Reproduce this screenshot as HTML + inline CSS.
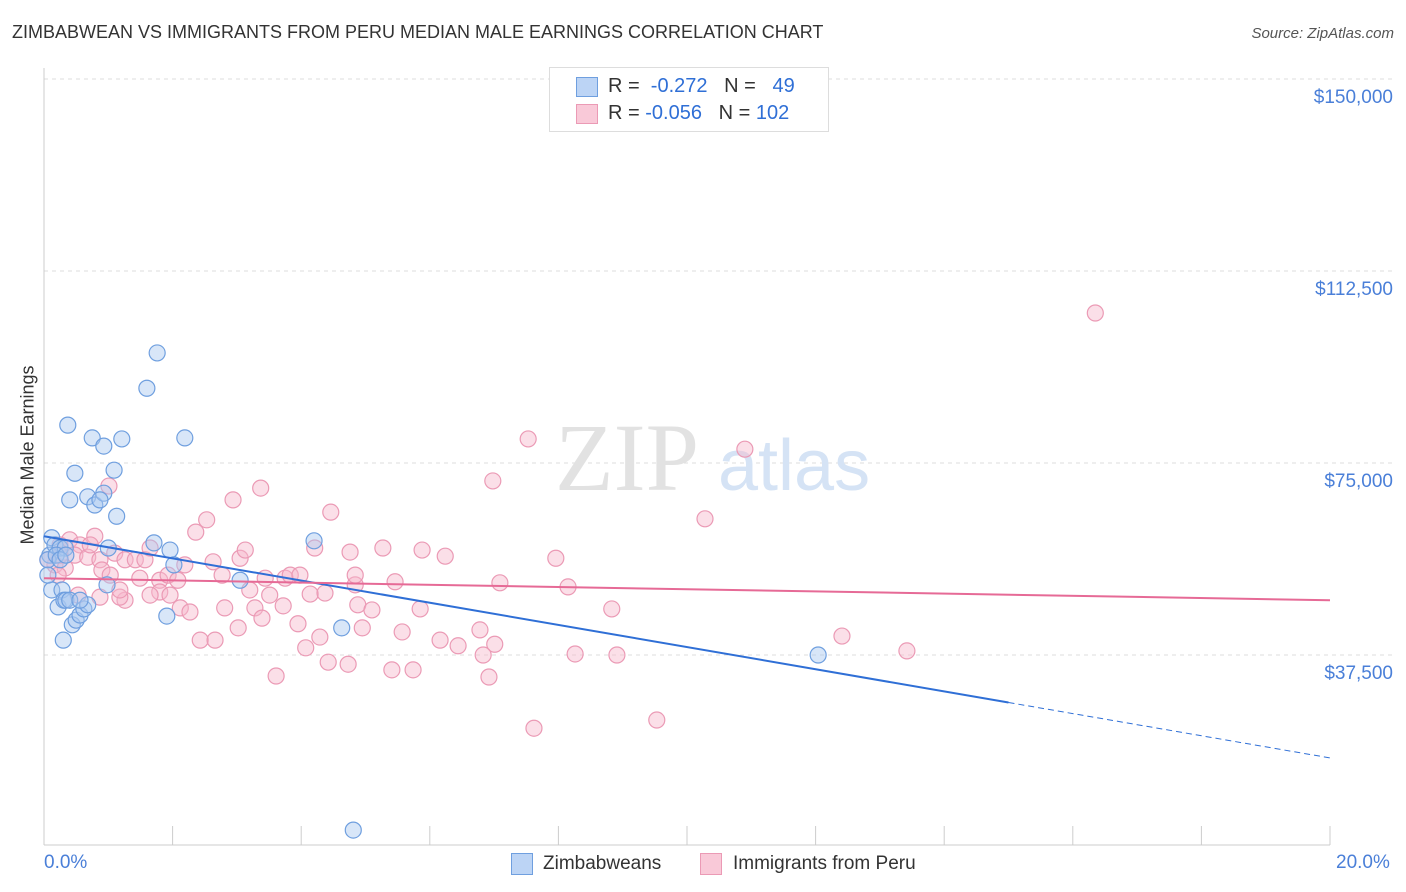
<!DOCTYPE html>
<html><head><meta charset="utf-8">
<style>
body{margin:0;background:#fff;font-family:"Liberation Sans",sans-serif;}
#wrap{position:relative;width:1406px;height:892px;overflow:hidden;}
.t{position:absolute;white-space:nowrap;}
</style></head>
<body>
<div id="wrap">
<div class="t" style="left:12px;top:22px;font-size:18px;color:#333;">ZIMBABWEAN VS IMMIGRANTS FROM PERU MEDIAN MALE EARNINGS CORRELATION CHART</div>
<div class="t" style="right:12px;top:25px;font-size:15px;color:#555;font-style:italic;">Source: ZipAtlas.com</div>
<svg id="svg" width="1406" height="892" style="position:absolute;left:0;top:0"></svg>
</div>
<script>
const blueX=[0.12,0.09,0.06,0.17,0.25,0.33,0.12,0.22,0.28,0.31,0.34,0.40,0.44,0.50,0.56,0.62,0.30,0.37,0.40,0.48,0.68,0.75,0.79,0.93,0.93,1.09,1.13,1.21,1.00,0.98,1.60,1.76,1.71,1.96,1.91,2.02,2.19,3.05,4.20,4.63,4.81,12.04,0.06,0.19,0.25,0.87,0.68,0.56,0.34];
const blueY=[60.4,57.0,56.1,59.0,58.4,58.4,50.2,46.9,50.2,48.2,48.2,48.2,43.4,44.3,45.3,46.5,40.4,82.4,67.8,73.0,68.4,79.9,66.8,78.3,69.1,73.6,64.6,79.7,58.4,51.2,89.6,96.5,59.4,58.0,45.1,55.1,79.9,52.1,59.8,42.8,3.3,37.5,53.1,57.0,56.1,67.8,47.3,48.2,57.0];
const pinkX=[16.35,7.53,10.90,6.98,3.37,1.01,10.28,2.94,2.53,4.46,2.36,0.79,0.25,0.40,0.56,0.17,0.33,0.48,0.68,0.87,1.10,1.26,1.42,1.57,1.65,1.80,1.93,2.08,2.19,2.63,2.77,3.05,3.13,3.44,3.75,3.83,3.98,4.21,4.76,5.27,5.88,6.24,7.96,5.46,7.09,8.15,4.84,3.20,3.51,1.80,1.65,1.26,1.18,2.12,2.27,2.81,3.28,3.72,4.14,4.37,4.88,5.10,5.85,8.83,3.39,3.95,4.95,5.57,6.78,2.43,2.66,3.02,4.29,4.07,6.16,6.44,7.01,6.83,8.26,8.91,4.42,4.73,5.41,5.74,3.61,6.92,7.62,9.53,12.41,13.42,0.90,1.03,0.22,0.87,1.49,0.25,0.72,0.53,1.96,1.18,4.84,0.06];
const pinkY=[104.3,79.7,77.7,71.5,70.1,70.5,64.1,67.8,63.9,65.4,61.5,60.7,59.0,60.0,59.0,55.1,54.5,57.0,56.6,56.1,57.4,56.1,56.1,56.1,58.4,52.1,53.1,52.1,55.1,55.7,53.1,56.4,58.0,52.5,52.5,53.1,53.1,58.4,57.6,58.4,58.0,56.8,56.4,51.8,51.6,50.8,51.2,50.2,49.2,49.8,49.2,48.2,48.8,46.7,45.9,46.7,46.7,47.1,49.4,49.6,47.3,46.3,46.5,46.5,44.7,43.6,42.8,42.0,42.4,40.4,40.4,42.8,41.0,38.9,40.4,39.3,39.6,37.5,37.7,37.5,36.1,35.7,34.6,34.6,33.4,33.2,23.2,24.8,41.2,38.3,54.1,53.1,53.1,48.8,52.5,57.0,59.0,49.2,49.2,50.2,53.1,56.1];
const yTicks=[37.5,75,112.5,150];
const yTickLabels=["$37,500","$75,000","$112,500","$150,000"];
const blueTrend=[60.7,17.4]; const blueSolidEnd=15.0;
const pinkTrend=[52.5,48.2];

const svg=document.getElementById('svg');const NS='http://www.w3.org/2000/svg';
const X=v=>44+v/20*1286;
const Y=v=>847-v/150*768;
function mk(t,a){const e=document.createElementNS(NS,t);for(const k in a)e.setAttribute(k,a[k]);svg.appendChild(e);return e;}
yTicks.forEach((t,i)=>{
 const g=mk('line',{x1:44,x2:1394,y1:Y(t),y2:Y(t),stroke:'#ddd','stroke-dasharray':'4,4'});
 
 
 const tx=mk('text',{x:1393,y:Y(t)+24,'text-anchor':'end','font-size':19,fill:'#4a7fd8','font-family':'Liberation Sans'});
 tx.textContent=yTickLabels[i];
 
 
});
const ax=mk('line',{x1:44,x2:1330,y1:845,y2:845,stroke:'#ccc'});


const ay=mk('line',{x1:44,x2:44,y1:68,y2:845,stroke:'#ccc'});


for(let i=0;i<=10;i++){const tk=mk('line',{x1:X(i*2),x2:X(i*2),y1:826,y2:845,stroke:'#ccc'});
 
 }
// watermark
const wm=mk('text',{x:555,y:490,'font-size':96,fill:'#e2e2e2','font-family':'Liberation Serif'});wm.textContent='ZIP';


const wm2=mk('text',{x:718,y:490,'font-size':72,fill:'#d5e3f5','font-family':'Liberation Sans'});wm2.textContent='atlas';


pinkX.forEach((x,i)=>{const c=mk('circle',{cx:X(x),cy:Y(pinkY[i]),r:8,fill:'rgba(247,184,204,0.45)',stroke:'#eb9ab5','stroke-width':1.2});
 
 });
blueX.forEach((x,i)=>{const c=mk('circle',{cx:X(x),cy:Y(blueY[i]),r:8,fill:'rgba(169,200,240,0.45)',stroke:'#6f9fdf','stroke-width':1.2});
 
 });
const by=x=>blueTrend[0]+(blueTrend[1]-blueTrend[0])*x/20;
const bl=mk('line',{x1:X(0),y1:Y(by(0)),x2:X(blueSolidEnd),y2:Y(by(blueSolidEnd)),stroke:'#2f6fd6','stroke-width':2});


const bd=mk('line',{x1:X(blueSolidEnd),y1:Y(by(blueSolidEnd)),x2:X(20),y2:Y(by(20)),stroke:'#2f6fd6','stroke-width':1,'stroke-dasharray':'6,4'});


const pl=mk('line',{x1:X(0),y1:Y(pinkTrend[0]),x2:X(20),y2:Y(pinkTrend[1]),stroke:'#e66a96','stroke-width':2});


</script>
<div class="t" style="left:16px;top:455px;transform:translate(-50%,-50%) rotate(-90deg);transform-origin:center;left:28px;font-size:18px;color:#333;">Median Male Earnings</div>
<div class="t" style="left:44px;top:852px;font-size:19px;color:#4a7fd8;">0.0%</div>
<div class="t" style="left:1336px;top:852px;font-size:19px;color:#4a7fd8;">20.0%</div>
<div style="position:absolute;left:549px;top:67px;width:278px;height:63px;border:1px solid #ddd;background:#fff;font-size:20px;">
 <div style="position:absolute;left:26px;top:9px;width:20px;height:18px;background:#bcd4f5;border:1px solid #6f9fdf"></div>
 <div class="t" style="left:58px;top:7px;color:#333">R = <span style="color:#2f6fd6">&nbsp;-0.272</span>&nbsp;&nbsp;&nbsp;N = &nbsp;&nbsp;<span style="color:#2f6fd6">49</span></div>
 <div style="position:absolute;left:26px;top:36px;width:20px;height:18px;background:#f9c9d8;border:1px solid #eb9ab5"></div>
 <div class="t" style="left:58px;top:34px;color:#333">R = <span style="color:#2f6fd6">-0.056</span>&nbsp;&nbsp;&nbsp;N = <span style="color:#2f6fd6">102</span></div>
</div>
<div style="position:absolute;left:511px;top:853px;width:20px;height:20px;background:#bcd4f5;border:1px solid #6f9fdf"></div>
<div class="t" style="left:543px;top:853px;font-size:19px;color:#333">Zimbabweans</div>
<div style="position:absolute;left:700px;top:853px;width:20px;height:20px;background:#f9c9d8;border:1px solid #eb9ab5"></div>
<div class="t" style="left:733px;top:853px;font-size:19px;color:#333">Immigrants from Peru</div>
</body></html>
